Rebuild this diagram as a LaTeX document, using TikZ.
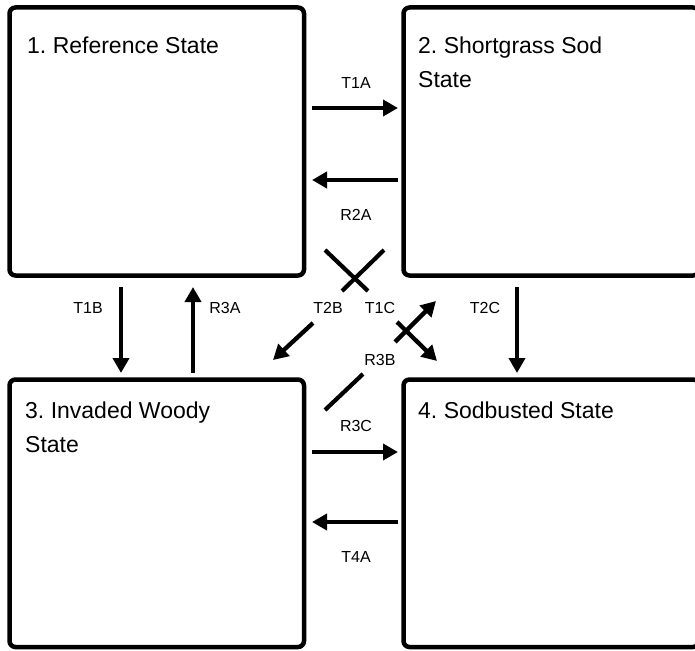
\documentclass[tikz,border=0pt]{standalone}
\usepackage{fontspec}
\setmainfont{Liberation Sans}
\usetikzlibrary{arrows.meta}
\frenchspacing
\begin{document}
\begin{tikzpicture}[x=1pt,y=-1pt,
  statebox/.style={draw=black,line width=4.5pt,rounded corners=6pt,inner sep=0pt,outer sep=0pt},
  title/.style={anchor=north west,inner sep=0pt,align=left,font=\fontsize{23}{34}\selectfont},
  lbl/.style={inner sep=0pt,font=\fontsize{16}{18}\selectfont},
  arr/.style={line width=4.3pt,-{Triangle[length=15pt,width=16pt]}},
  plain/.style={line width=4.2pt}]
\useasboundingbox (0,0) rectangle (695,650);
\fill[white] (0,0) rectangle (695,650);
% state boxes
\node[statebox,minimum width=294.5pt,minimum height=268pt] (b1) at (156.75,141.5) {};
\node[statebox,minimum width=295.5pt,minimum height=268pt] (b2) at (551.25,141.5) {};
\node[statebox,minimum width=294.5pt,minimum height=267.5pt] (b3) at (156.75,513.25) {};
\node[statebox,minimum width=295.5pt,minimum height=267.5pt] (b4) at (551.25,513.25) {};
% titles
\node[title] (t1) at (27,36.5) {1. Reference State};
\node[title] (t2) at (418,36.5) {2. Shortgrass Sod\\State};
\node[title] (t3) at (25,402) {3. Invaded Woody\\State};
\node[title] (t4) at (418,402) {4. Sodbusted State};
% arrow end points
\coordinate (a1s) at (312,108); \coordinate (a1e) at (398,108);
\coordinate (a2s) at (398,180); \coordinate (a2e) at (312,180);
\coordinate (a3s) at (121,287); \coordinate (a3e) at (121,373);
\coordinate (a4s) at (193,373); \coordinate (a4e) at (193,287);
\coordinate (a5s) at (517,287); \coordinate (a5e) at (517,373);
\coordinate (a6s) at (312,452); \coordinate (a6e) at (398,452);
\coordinate (a7s) at (398,522); \coordinate (a7e) at (312,522);
% diagonal pieces
\coordinate (d1s) at (325,250); \coordinate (d1e) at (368,291);
\coordinate (d1as) at (397,322); \coordinate (d1ae) at (437,361);
\coordinate (d2s) at (384,250); \coordinate (d2e) at (342,291);
\coordinate (d2as) at (313,323); \coordinate (d2ae) at (273,360);
\coordinate (d3s) at (325,410); \coordinate (d3e) at (363,374);
\coordinate (d3as) at (395,342); \coordinate (d3ae) at (436,301);
% connectors
\draw[arr] (a1s) -- (a1e);
\draw[arr] (a2s) -- (a2e);
\draw[arr] (a3s) -- (a3e);
\draw[arr] (a4s) -- (a4e);
\draw[arr] (a5s) -- (a5e);
\draw[arr] (a6s) -- (a6e);
\draw[arr] (a7s) -- (a7e);
\draw[plain] (d1s) -- (d1e);
\draw[arr] (d1as) -- (d1ae);
\draw[plain] (d2s) -- (d2e);
\draw[arr] (d2as) -- (d2ae);
\draw[plain] (d3s) -- (d3e);
\draw[arr] (d3as) -- (d3ae);
% labels
\node[lbl] (l1) at (356,83) {T1A};
\node[lbl] (l2) at (356,215) {R2A};
\node[lbl] (l3) at (88,308) {T1B};
\node[lbl] (l4) at (225,308) {R3A};
\node[lbl] (l5) at (328,308) {T2B};
\node[lbl] (l6) at (380,308) {T1C};
\node[lbl] (l7) at (485,308) {T2C};
\node[lbl] (l8) at (380,360) {R3B};
\node[lbl] (l9) at (356,426) {R3C};
\node[lbl] (l10) at (356,557) {T4A};
\end{tikzpicture}
\end{document}
